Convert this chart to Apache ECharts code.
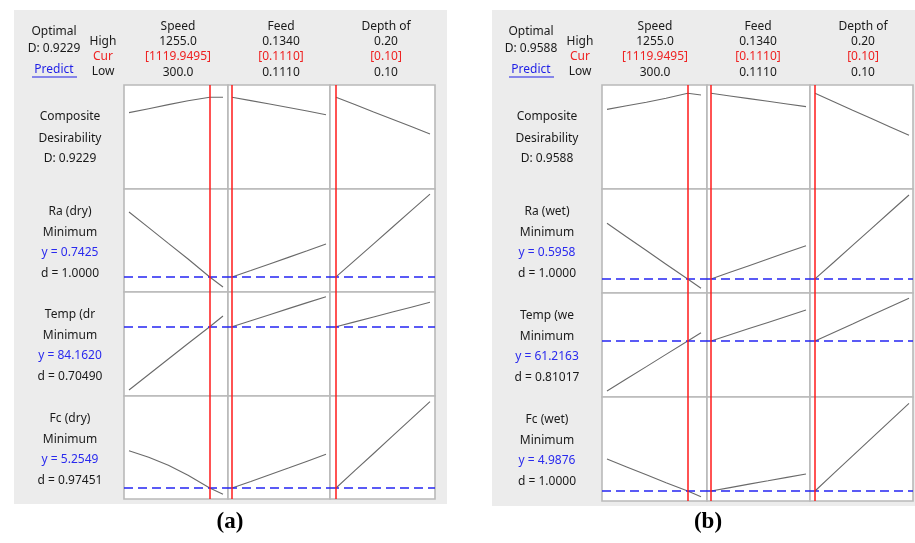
<!DOCTYPE html>
<html><head><meta charset="utf-8">
<script src="https://cdn.jsdelivr.net/npm/echarts@6/dist/echarts.min.js"></script>
<style>html,body{margin:0;padding:0;background:#fff}#c{width:915px;height:543px}</style>
</head><body><div id="c"></div>
<script>
// ---- factor settings (shared by both panels) ----
const factorNames = ['Speed', 'Feed', 'Depth of'];
const highLabels = ['1255.0', '0.1340', '0.20'];
const curLabels = ['[1119.9495]', '[0.1110]', '[0.10]'];
const lowLabels = ['300.0', '0.1110', '0.10'];
const speedRange = [300, 1255];
const feedRange = [0.1110, 0.1340];
const depthRange = [0.10, 0.20];
const curSettings = [1119.9495, 0.1110, 0.10];
const speedLevels = [300, 500, 700, 900, 1120, 1255];
const feedLevels = [0.1110, 0.1156, 0.1202, 0.1248, 0.1294, 0.1340];
const depthLevels = [0.10, 0.12, 0.14, 0.16, 0.18, 0.20];

// ---- panel (a): dry ----  (curve heights as % of each cell, no y scale shown)
const optimalA = '0.9229';
const responseNamesA = ['Ra (dry)', 'Temp (dr', 'Fc (dry)'];
const predictedA = ['0.7425', '84.1620', '5.2549'];
const desirA = ['1.0000', '0.70490', '0.97451'];
const targetA = [14.6, 66.6, 10.7];
const compA_speed = [73.4, 77.2, 81.1, 84.9, 88.2, 88.2];
const compA_feed = [88.2, 85.0, 81.8, 78.4, 75.0, 71.4];
const compA_depth = [88.2, 81.2, 74.1, 67.1, 60.0, 52.9];
const raA_speed = [77.7, 62.5, 47.2, 32.0, 14.6, 4.9];
const raA_feed = [14.6, 20.8, 27.2, 33.6, 40.0, 46.6];
const raA_depth = [14.6, 30.7, 46.8, 62.9, 79.0, 95.1];
const tempA_speed = [5.8, 20.7, 35.6, 50.5, 66.6, 76.9];
const tempA_feed = [66.6, 72.4, 78.2, 84.0, 89.8, 95.5];
const tempA_depth = [66.6, 71.3, 76.0, 80.7, 85.4, 90.1];
const fcA_speed = [46.9, 40.5, 32.8, 23.0, 10.7, 4.6];
const fcA_feed = [10.7, 17.0, 23.5, 30.0, 36.7, 43.4];
const fcA_depth = [10.7, 27.5, 44.2, 61.0, 77.7, 94.5];

// ---- panel (b): wet ----
const optimalB = '0.9588';
const responseNamesB = ['Ra (wet)', 'Temp (we', 'Fc (wet)'];
const predictedB = ['0.5958', '61.2163', '4.9876'];
const desirB = ['1.0000', '0.81017', '1.0000'];
const targetB = [13.5, 53.8, 9.6];
const compB_speed = [76.6, 80.0, 83.4, 87.2, 92.0, 90.4];
const compB_feed = [92.0, 89.4, 86.9, 84.3, 81.8, 79.2];
const compB_depth = [92.0, 83.9, 75.8, 67.8, 59.7, 51.6];
const raB_speed = [67.0, 53.9, 40.8, 27.7, 13.5, 4.5];
const raB_feed = [13.5, 19.9, 26.3, 32.7, 39.1, 45.5];
const raB_depth = [13.5, 29.6, 45.8, 61.9, 78.1, 94.2];
const tempB_speed = [5.8, 17.5, 29.2, 41.0, 53.8, 61.8];
const tempB_feed = [53.8, 59.8, 65.8, 71.7, 77.7, 83.7];
const tempB_depth = [53.8, 62.0, 70.2, 78.5, 86.7, 94.9];
const fcB_speed = [40.4, 32.8, 25.2, 17.6, 9.6, 4.1];
const fcB_feed = [9.6, 12.9, 16.2, 19.4, 22.7, 26.0];
const fcB_depth = [9.6, 26.5, 43.3, 60.2, 77.0, 93.9];

// ---- layout ----
const FONT = '12px "Noto Sans", sans-serif';
const levels = [speedLevels, feedLevels, depthLevels];
const ranges = [speedRange, feedRange, depthRange];
const panels = [
  {
    dx: 0, bg: [14, 10, 433, 494], caption: '(a)', capX: 230,
    colLeft: [124, 228, 330], colW: [104, 102, 105], padL: [5, 4, 6], padR: [5, 4, 5],
    rowTop: [85, 189, 292, 396], rowH: [104, 103, 104, 103],
    optimal: optimalA, names: responseNamesA, pred: predictedA, desir: desirA, target: targetA,
    curves: [[compA_speed, compA_feed, compA_depth], [raA_speed, raA_feed, raA_depth],
             [tempA_speed, tempA_feed, tempA_depth], [fcA_speed, fcA_feed, fcA_depth]]
  },
  {
    dx: 477, bg: [492, 10, 423, 496], caption: '(b)', capX: 708,
    colLeft: [602, 707, 810], colW: [105, 103, 103], padL: [5, 4, 5], padR: [6, 4, 4],
    rowTop: [85, 189, 293, 397], rowH: [104, 104, 104, 104],
    optimal: optimalB, names: responseNamesB, pred: predictedB, desir: desirB, target: targetB,
    curves: [[compB_speed, compB_feed, compB_depth], [raB_speed, raB_feed, raB_depth],
             [tempB_speed, tempB_feed, tempB_depth], [fcB_speed, fcB_feed, fcB_depth]]
  }
];

const grid = [], xAxis = [], yAxis = [], series = [], graphic = [];
function txt(x, y, text, fill, font) {
  graphic.push({ type: 'text', x: x, y: y, z: 10,
    style: { text: text, fill: fill || '#1a1a1a', font: font || FONT, align: 'center', verticalAlign: 'middle' } });
}

panels.forEach(function (p) {
  graphic.push({ type: 'rect', z: -10, shape: { x: p.bg[0], y: p.bg[1], width: p.bg[2], height: p.bg[3] },
    style: { fill: '#ececec' } });
  const dx = p.dx;
  txt(54 + dx, 32, 'Optimal');
  txt(54 + dx, 49, 'D: ' + p.optimal);
  txt(54 + dx, 70, 'Predict', '#1f1fe6');
  graphic.push({ type: 'line', z: 10, shape: { x1: 32 + dx, y1: 77, x2: 77 + dx, y2: 77 }, style: { stroke: '#1f1fe6', lineWidth: 1 } });
  txt(103 + dx, 42, 'High');
  txt(103 + dx, 57, 'Cur', '#ee2222');
  txt(103 + dx, 72, 'Low');
  const hdrX = [178, 281, 386];
  for (let c = 0; c < 3; c++) {
    const x = hdrX[c] + dx;
    txt(x, 27, factorNames[c]);
    txt(x, 42, highLabels[c]);
    txt(x, 57, curLabels[c], '#ee2222');
    txt(x, 73, lowLabels[c]);
  }
  // row labels
  const lx = 70 + dx;
  txt(lx, p.rowTop[0] + 32, 'Composite');
  txt(lx, p.rowTop[0] + 54, 'Desirability');
  txt(lx, p.rowTop[0] + 74, 'D: ' + p.optimal);
  for (let r = 1; r < 4; r++) {
    const t = p.rowTop[r];
    txt(lx, t + 23, p.names[r - 1]);
    txt(lx, t + 43.5, 'Minimum');
    txt(lx, t + 64, 'y = ' + p.pred[r - 1], '#2a2aee');
    txt(lx, t + 85, 'd = ' + p.desir[r - 1]);
  }
  txt(p.capX, 522, p.caption, '#000', 'bold 23px "Liberation Serif", serif');

  // cells
  for (let r = 0; r < 4; r++) {
    for (let c = 0; c < 3; c++) {
      const gi = grid.length;
      const w = p.colW[c];
      const lo = ranges[c][0], hi = ranges[c][1];
      const span = (hi - lo) / (w - p.padL[c] - p.padR[c]);
      grid.push({ left: p.colLeft[c], top: p.rowTop[r], width: w, height: p.rowH[r],
        show: true, backgroundColor: '#fff', borderColor: '#b9b9b9', borderWidth: 1.6 });
      xAxis.push({ type: 'value', gridIndex: gi, min: lo - span * p.padL[c], max: hi + span * p.padR[c], show: false });
      yAxis.push({ type: 'value', gridIndex: gi, min: 0, max: 100, show: false });
      const lines = [];
      if (r > 0) {
        lines.push({ yAxis: p.target[r - 1], lineStyle: { color: '#2424f2', width: 1.5, type: [9, 5] } });
      }
      lines.push({ xAxis: curSettings[c], lineStyle: { color: '#ff1a1a', width: 1.5, type: 'solid' } });
      series.push({
        type: 'line', xAxisIndex: gi, yAxisIndex: gi, showSymbol: false, symbol: 'none', silent: true,
        animation: false,
        data: levels[c].map(function (v, i) { return [v, p.curves[r][c][i]]; }),
        lineStyle: { color: '#6a6a6a', width: 1.1 },
        markLine: { symbol: 'none', silent: true, animation: false, precision: 8, label: { show: false }, data: lines }
      });
    }
  }
});

const chart = echarts.init(document.getElementById('c'));
chart.setOption({ animation: false, grid: grid, xAxis: xAxis, yAxis: yAxis, series: series, graphic: graphic });
</script></body></html>
